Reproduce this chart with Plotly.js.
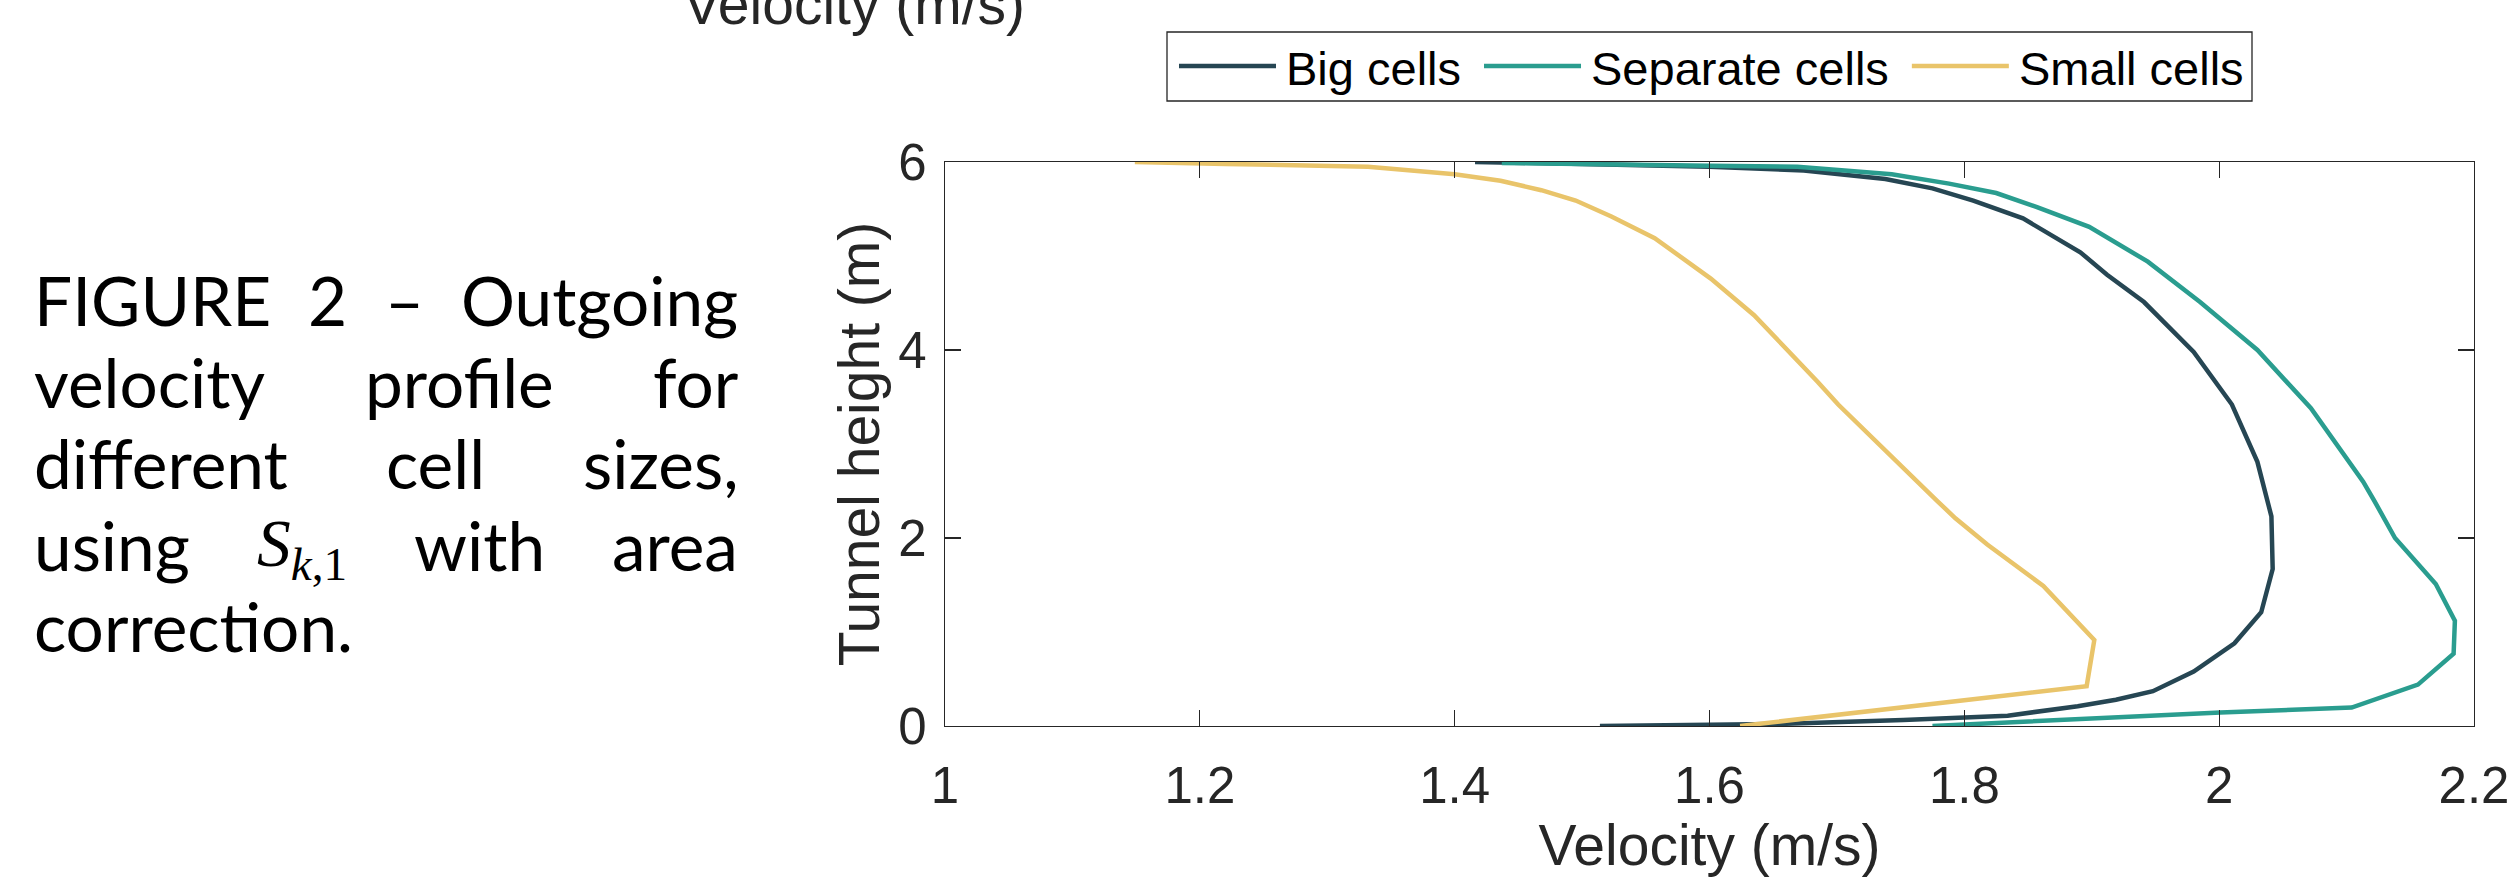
<!DOCTYPE html>
<html>
<head>
<meta charset="utf-8">
<script src="https://cdn.plot.ly/plotly-3.0.1.min.js"></script>
<style>
html,body{margin:0;padding:0;background:#ffffff;overflow:hidden}
#chart{width:2513px;height:877px}
</style>
</head>
<body>
<div id="chart"></div>
<script>
// ---------------- data ----------------
const seriesNames = ["Big cells", "Separate cells", "Small cells"];

const bigVelocity = [1.514, 1.651, 1.752, 1.834, 1.889, 1.919, 1.948, 1.980, 2.012, 2.033, 2.042, 2.041, 2.030, 2.010, 1.980, 1.941, 1.912, 1.891, 1.846, 1.807, 1.775, 1.738, 1.674, 1.600, 1.500, 1.416];
const bigHeight   = [0.000, 0.020, 0.063, 0.110, 0.210, 0.280, 0.370, 0.580, 0.880, 1.210, 1.670, 2.230, 2.810, 3.420, 3.980, 4.510, 4.800, 5.040, 5.400, 5.590, 5.720, 5.820, 5.910, 5.950, 5.980, 6.000];

const sepVelocity = [1.775, 2.001, 2.104, 2.156, 2.184, 2.185, 2.170, 2.138, 2.122, 2.113, 2.072, 2.030, 1.985, 1.944, 1.898, 1.857, 1.825, 1.788, 1.743, 1.669, 1.600, 1.437];
const sepHeight   = [0.000, 0.144, 0.196, 0.440, 0.770, 1.120, 1.510, 2.000, 2.390, 2.600, 3.380, 4.000, 4.510, 4.940, 5.310, 5.520, 5.670, 5.770, 5.870, 5.950, 5.960, 5.990];

const smallVelocity = [1.624, 1.896, 1.902, 1.862, 1.818, 1.793, 1.779, 1.740, 1.701, 1.685, 1.660, 1.635, 1.601, 1.557, 1.523, 1.495, 1.468, 1.436, 1.400, 1.332, 1.220, 1.149];
const smallHeight   = [0.000, 0.424, 0.914, 1.490, 1.930, 2.210, 2.390, 2.900, 3.420, 3.660, 4.020, 4.370, 4.760, 5.190, 5.420, 5.590, 5.700, 5.800, 5.870, 5.950, 5.980, 6.000];

const xTickVals = [1, 1.2, 1.4, 1.6, 1.8, 2, 2.2];
const xTickText = ["1", "1.2", "1.4", "1.6", "1.8", "2", "2.2"];
const yTickVals = [0, 2, 4, 6];
const yTickText = ["0", "2", "4", "6"];

const xTitleText = "Velocity (m/s)";
const yTitleText = "Tunnel height (m)";
const topCutText = "Velocity (m/s)";

const captionLines = [
  ["FIGURE", "2", "–", "Outgoing"],
  ["velocity", "profile", "for"],
  ["different", "cell", "sizes,"],
  ["using", "@MATH", "with", "area"],
  ["correction."]
];

// ---------------- styles / layout geometry ----------------
const COLORS = ["#264653", "#2a9d8f", "#e9c46a"];
const AX = "#262626";
const SANS = "Liberation Sans, Arial, sans-serif";
const W = 2513, H = 877;
const PL = 945, PR = 2474, PT = 162, PB = 726;
const px = X => (X - PL) / (PR - PL);
const py = Y => (PB - Y) / (PB - PT);

const cv = document.createElement('canvas');
const ctx = cv.getContext('2d');
function tw(t, font) { ctx.font = font; return ctx.measureText(t).width; }
function midOffset(font) {
  ctx.font = font;
  const m = ctx.measureText('Hg');
  return (m.fontBoundingBoxAscent - m.fontBoundingBoxDescent) / 2;
}

const traces = [
  {x: bigVelocity, y: bigHeight},
  {x: sepVelocity, y: sepHeight},
  {x: smallVelocity, y: smallHeight}
].map((d, i) => ({
  type: 'scatter', mode: 'lines', x: d.x, y: d.y, name: seriesNames[i],
  line: {color: COLORS[i], width: 4.5}, showlegend: false, hoverinfo: 'skip'
}));

const annotations = [];
const shapes = [];

// top cut-off text (from the figure above)
{
  const fs = 57, font = fs + 'px "Liberation Sans"';
  annotations.push({
    xref: 'paper', yref: 'paper', x: px(853.5), y: py(24.5 - midOffset(font)),
    xanchor: 'center', yanchor: 'middle', showarrow: false, borderpad: 0,
    text: topCutText, font: {family: SANS, size: fs, color: AX}
  });
}

// custom legend
{
  const fs = 47, font = fs + 'px "Liberation Sans"';
  shapes.push({type: 'rect', xref: 'paper', yref: 'paper', x0: px(1167), x1: px(2252), y0: py(101), y1: py(32),
    line: {color: AX, width: 1.3}, fillcolor: '#ffffff', layer: 'above'});
  let x = 1179;
  seriesNames.forEach((nm, i) => {
    shapes.push({type: 'line', xref: 'paper', yref: 'paper', x0: px(x), x1: px(x + 97), y0: py(66), y1: py(66),
      line: {color: COLORS[i], width: 4.5}, layer: 'above'});
    const tx = x + 106;
    annotations.push({
      xref: 'paper', yref: 'paper', x: px(tx), y: py(85 - midOffset(font)),
      xanchor: 'left', yanchor: 'middle', showarrow: false, borderpad: 0,
      text: nm, font: {family: SANS, size: fs, color: '#000000'}
    });
    x = tx + tw(nm, font) + 24;
  });
}

// justified caption
{
  const L = 33, R = 737;
  const w100 = tw("correction.", '100px Lato');
  const fs = Math.round(319 / w100 * 100 * 10) / 10;
  const font = fs + 'px Lato';
  const mfs = fs;
  const mathText = '<i>S</i><sub><i>k</i>,1</sub>';
  const mathW = tw('S', 'italic ' + mfs + 'px "Liberation Serif"') + tw('k', 'italic ' + (mfs * 0.7) + 'px "Liberation Serif"') + tw(',1', (mfs * 0.7) + 'px "Liberation Serif"');
  const off = midOffset(font);
  const offM = midOffset(mfs + 'px "Liberation Serif"');
  captionLines.forEach((words, li) => {
    const base = 326 + li * 81.5;
    const widths = words.map(w => w === '@MATH' ? mathW : tw(w, font));
    const sum = widths.reduce((a, b) => a + b, 0);
    const last = li === captionLines.length - 1;
    const gap = last ? tw(' ', font) : (R - L - sum) / (words.length - 1);
    let x = L;
    words.forEach((w, wi) => {
      const isM = w === '@MATH';
      annotations.push({
        xref: 'paper', yref: 'paper', x: px(x), y: py(base - (isM ? offM : off)),
        xanchor: 'left', yanchor: 'middle', showarrow: false, borderpad: 0,
        text: isM ? mathText : w,
        font: {family: isM ? 'Liberation Serif, serif' : 'Lato, sans-serif', size: isM ? mfs : fs, color: '#000000'}
      });
      x += widths[wi] + gap;
    });
  });
}

const axisCommon = {
  showgrid: false, zeroline: false, showline: true, mirror: 'ticks',
  linecolor: AX, linewidth: 1.3, ticks: 'inside', ticklen: 16, tickwidth: 1.3, tickcolor: AX,
  tickfont: {family: SANS, size: 51, color: AX}, tickmode: 'array', fixedrange: true
};

const layout = {
  width: W, height: H,
  margin: {l: PL, r: W - PR, t: PT, b: H - PB, pad: 0},
  paper_bgcolor: '#ffffff', plot_bgcolor: '#ffffff',
  showlegend: false,
  xaxis: Object.assign({}, axisCommon, {
    range: [1, 2.2], tickvals: xTickVals, ticktext: xTickText, ticklabelstandoff: 14,
    title: {text: xTitleText, font: {family: SANS, size: 57, color: AX}, standoff: 6}
  }),
  yaxis: Object.assign({}, axisCommon, {
    range: [0, 6], tickvals: yTickVals, ticktext: yTickText, ticklabelstandoff: 7,
    title: {text: yTitleText, font: {family: SANS, size: 57, color: AX}, standoff: 0}
  }),
  annotations: annotations,
  shapes: shapes
};

Plotly.newPlot('chart', traces, layout, {staticPlot: true, displayModeBar: false});
</script>
</body>
</html>
